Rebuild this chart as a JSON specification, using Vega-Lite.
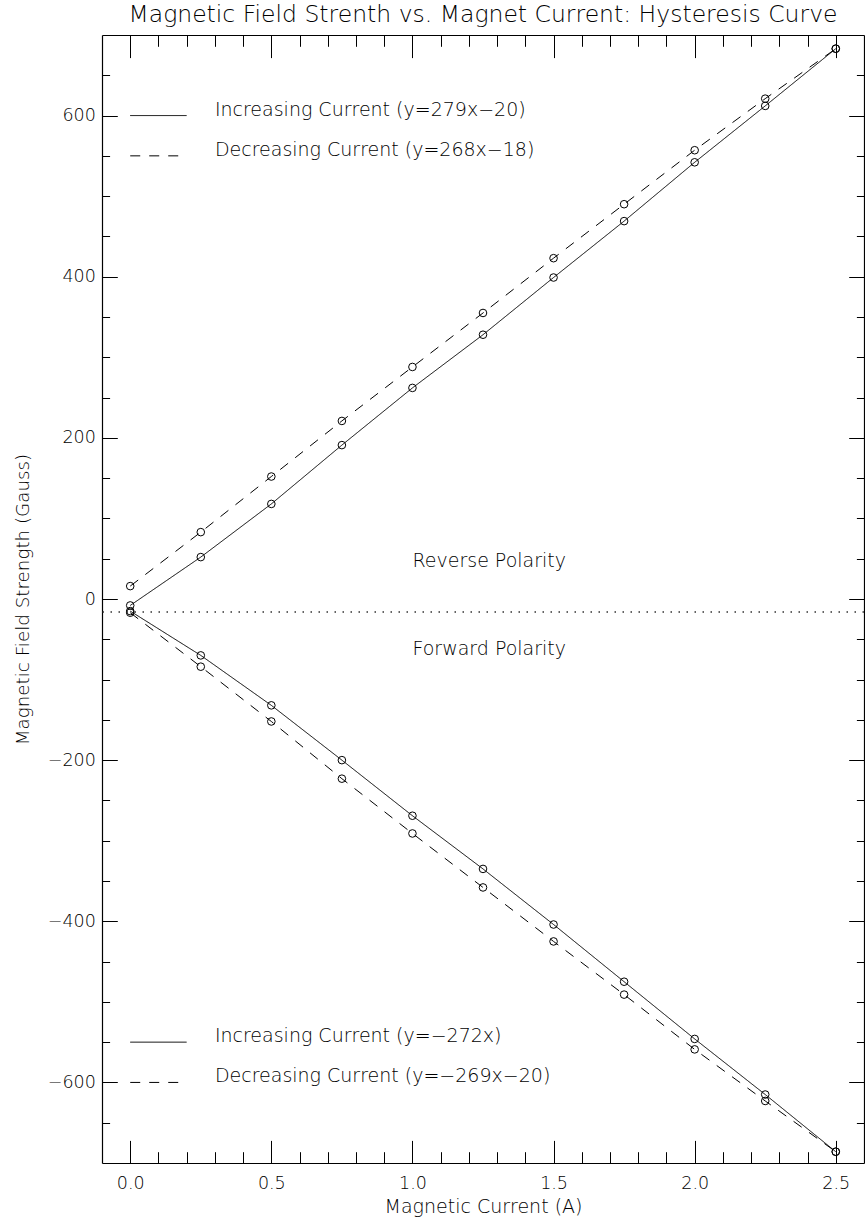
{
  "$schema": "https://vega.github.io/schema/vega-lite/v6.json",
  "width": 762,
  "height": 1128,
  "autosize": {"type": "none"},
  "padding": {"left": 102, "top": 35, "right": 1, "bottom": 59},
  "background": "white",
  "title": {
    "text": "Magnetic Field Strenth vs. Magnet Current: Hysteresis Curve",
    "anchor": "middle",
    "frame": "group",
    "fontSize": 23.5,
    "fontWeight": 200,
    "font": "DejaVu Sans",
    "color": "black",
    "offset": 8
  },
  "config": {
    "font": "DejaVu Sans",
    "view": {"stroke": null},
    "axis": {
      "grid": false,
      "labelFont": "DejaVu Sans",
      "labelFontWeight": 200,
      "labelFontSize": 17.5,
      "labelColor": "black",
      "titleFont": "DejaVu Sans",
      "titleFontWeight": 200,
      "titleFontSize": 19,
      "titleColor": "black",
      "tickColor": "black",
      "tickWidth": 1,
      "domainColor": "black",
      "domainWidth": 1.2
    },
    "text": {"font": "DejaVu Sans", "fontWeight": 200}
  },
  "datasets": {
    "meas": [
      {"current": 0.0, "field": -8, "polarity": "Reverse", "direction": "Increasing"},
      {"current": 0.25, "field": 52, "polarity": "Reverse", "direction": "Increasing"},
      {"current": 0.5, "field": 118, "polarity": "Reverse", "direction": "Increasing"},
      {"current": 0.75, "field": 191, "polarity": "Reverse", "direction": "Increasing"},
      {"current": 1.0, "field": 262, "polarity": "Reverse", "direction": "Increasing"},
      {"current": 1.25, "field": 328, "polarity": "Reverse", "direction": "Increasing"},
      {"current": 1.5, "field": 399, "polarity": "Reverse", "direction": "Increasing"},
      {"current": 1.75, "field": 469, "polarity": "Reverse", "direction": "Increasing"},
      {"current": 2.0, "field": 542, "polarity": "Reverse", "direction": "Increasing"},
      {"current": 2.25, "field": 612, "polarity": "Reverse", "direction": "Increasing"},
      {"current": 2.5, "field": 683, "polarity": "Reverse", "direction": "Increasing"},
      {"current": 0.0, "field": 16, "polarity": "Reverse", "direction": "Decreasing"},
      {"current": 0.25, "field": 83, "polarity": "Reverse", "direction": "Decreasing"},
      {"current": 0.5, "field": 152, "polarity": "Reverse", "direction": "Decreasing"},
      {"current": 0.75, "field": 221, "polarity": "Reverse", "direction": "Decreasing"},
      {"current": 1.0, "field": 288, "polarity": "Reverse", "direction": "Decreasing"},
      {"current": 1.25, "field": 355, "polarity": "Reverse", "direction": "Decreasing"},
      {"current": 1.5, "field": 423, "polarity": "Reverse", "direction": "Decreasing"},
      {"current": 1.75, "field": 490, "polarity": "Reverse", "direction": "Decreasing"},
      {"current": 2.0, "field": 557, "polarity": "Reverse", "direction": "Decreasing"},
      {"current": 2.25, "field": 621, "polarity": "Reverse", "direction": "Decreasing"},
      {"current": 2.5, "field": 683, "polarity": "Reverse", "direction": "Decreasing"},
      {"current": 0.0, "field": -15, "polarity": "Forward", "direction": "Increasing"},
      {"current": 0.25, "field": -70, "polarity": "Forward", "direction": "Increasing"},
      {"current": 0.5, "field": -132, "polarity": "Forward", "direction": "Increasing"},
      {"current": 0.75, "field": -200, "polarity": "Forward", "direction": "Increasing"},
      {"current": 1.0, "field": -269, "polarity": "Forward", "direction": "Increasing"},
      {"current": 1.25, "field": -335, "polarity": "Forward", "direction": "Increasing"},
      {"current": 1.5, "field": -404, "polarity": "Forward", "direction": "Increasing"},
      {"current": 1.75, "field": -475, "polarity": "Forward", "direction": "Increasing"},
      {"current": 2.0, "field": -546, "polarity": "Forward", "direction": "Increasing"},
      {"current": 2.25, "field": -615, "polarity": "Forward", "direction": "Increasing"},
      {"current": 2.5, "field": -686, "polarity": "Forward", "direction": "Increasing"},
      {"current": 0.0, "field": -17, "polarity": "Forward", "direction": "Decreasing"},
      {"current": 0.25, "field": -84, "polarity": "Forward", "direction": "Decreasing"},
      {"current": 0.5, "field": -152, "polarity": "Forward", "direction": "Decreasing"},
      {"current": 0.75, "field": -223, "polarity": "Forward", "direction": "Decreasing"},
      {"current": 1.0, "field": -291, "polarity": "Forward", "direction": "Decreasing"},
      {"current": 1.25, "field": -358, "polarity": "Forward", "direction": "Decreasing"},
      {"current": 1.5, "field": -425, "polarity": "Forward", "direction": "Decreasing"},
      {"current": 1.75, "field": -491, "polarity": "Forward", "direction": "Decreasing"},
      {"current": 2.0, "field": -559, "polarity": "Forward", "direction": "Decreasing"},
      {"current": 2.25, "field": -623, "polarity": "Forward", "direction": "Decreasing"},
      {"current": 2.5, "field": -686, "polarity": "Forward", "direction": "Decreasing"}
    ],
    "legend": [
      {"x0": 0, "x1": 0.2, "xt": 0.3, "y": 600, "direction": "Increasing", "label": "Increasing Current (y=279x−20)"},
      {"x0": 0, "x1": 0.2, "xt": 0.3, "y": 550, "direction": "Decreasing", "label": "Decreasing Current (y=268x−18)"},
      {"x0": 0, "x1": 0.2, "xt": 0.3, "y": -550, "direction": "Increasing", "label": "Increasing Current (y=−272x)"},
      {"x0": 0, "x1": 0.2, "xt": 0.3, "y": -600, "direction": "Decreasing", "label": "Decreasing Current (y=−269x−20)"}
    ],
    "notes": [
      {"x": 1.0, "y": 40, "label": "Reverse Polarity"},
      {"x": 1.0, "y": -70, "label": "Forward Polarity"}
    ],
    "zero": [{"level": -16}]
  },
  "resolve": {"axis": {"x": "independent", "y": "independent"}},
  "layer": [
    {
      "data": {"name": "meas"},
      "mark": {"type": "line", "color": "black", "strokeWidth": 1},
      "encoding": {
        "x": {"field": "current", "type": "quantitative",
              "scale": {"domain": [-0.1, 2.6], "nice": false, "zero": false},
              "axis": {"orient": "bottom", "values": [0, 0.5, 1, 1.5, 2, 2.5], "format": ".1f",
                       "tickSize": -22.6, "labelPadding": 34, "title": "Magnetic Current (A)", "titlePadding": 6}},
        "y": {"field": "field", "type": "quantitative",
              "scale": {"domain": [-700, 700], "nice": false, "zero": false},
              "axis": {"orient": "left", "values": [-600, -400, -200, 0, 200, 400, 600],
                       "tickSize": -15.3, "labelPadding": 22, "title": "Magnetic Field Strength (Gauss)", "titlePadding": 15, "titleFontSize": 18.3}},
        "detail": {"field": "polarity"},
        "strokeDash": {"field": "direction", "type": "nominal",
                       "scale": {"domain": ["Increasing", "Decreasing"], "range": [[1, 0], [10, 9]]},
                       "legend": null}
      }
    },
    {
      "data": {"name": "meas"},
      "mark": {"type": "point", "shape": "circle", "filled": false, "color": "black", "size": 58, "strokeWidth": 1, "opacity": 1},
      "encoding": {
        "x": {"field": "current", "type": "quantitative",
              "scale": {"domain": [-0.1, 2.6], "nice": false, "zero": false},
              "axis": {"orient": "bottom", "values": [0.1, 0.2, 0.3, 0.4, 0.6, 0.7, 0.8, 0.9, 1.1, 1.2, 1.3, 1.4, 1.6, 1.7, 1.8, 1.9, 2.1, 2.2, 2.3, 2.4],
                       "tickSize": -11.3, "labels": false, "domain": false, "title": null}},
        "y": {"field": "field", "type": "quantitative",
              "scale": {"domain": [-700, 700], "nice": false, "zero": false},
              "axis": {"orient": "left", "values": [-650, -550, -500, -450, -350, -300, -250, -150, -100, -50, 50, 100, 150, 250, 300, 350, 450, 500, 550, 650],
                       "tickSize": -7.6, "labels": false, "domain": false, "title": null}}
      }
    },
    {
      "data": {"name": "legend"},
      "mark": {"type": "rule", "color": "black", "strokeWidth": 1},
      "encoding": {
        "x": {"field": "x0", "type": "quantitative",
              "scale": {"domain": [-0.1, 2.6], "nice": false, "zero": false},
              "axis": {"orient": "top", "values": [0, 0.5, 1, 1.5, 2, 2.5],
                       "tickSize": -22.6, "labels": false, "title": null}},
        "x2": {"field": "x1"},
        "y": {"field": "y", "type": "quantitative",
              "scale": {"domain": [-700, 700], "nice": false, "zero": false},
              "axis": {"orient": "right", "values": [-600, -400, -200, 0, 200, 400, 600],
                       "tickSize": -15.3, "labels": false, "title": null}},
        "strokeDash": {"field": "direction", "type": "nominal",
                       "scale": {"domain": ["Increasing", "Decreasing"], "range": [[1, 0], [10, 9]]},
                       "legend": null}
      }
    },
    {
      "data": {"name": "legend"},
      "mark": {"type": "text", "align": "left", "baseline": "alphabetic", "fontSize": 19, "color": "black"},
      "encoding": {
        "x": {"field": "xt", "type": "quantitative",
              "scale": {"domain": [-0.1, 2.6], "nice": false, "zero": false},
              "axis": {"orient": "top", "values": [0.1, 0.2, 0.3, 0.4, 0.6, 0.7, 0.8, 0.9, 1.1, 1.2, 1.3, 1.4, 1.6, 1.7, 1.8, 1.9, 2.1, 2.2, 2.3, 2.4],
                       "tickSize": -11.3, "labels": false, "domain": false, "title": null}},
        "y": {"field": "y", "type": "quantitative",
              "scale": {"domain": [-700, 700], "nice": false, "zero": false},
              "axis": {"orient": "right", "values": [-650, -550, -500, -450, -350, -300, -250, -150, -100, -50, 50, 100, 150, 250, 300, 350, 450, 500, 550, 650],
                       "tickSize": -7.6, "labels": false, "domain": false, "title": null}},
        "text": {"field": "label"}
      }
    },
    {
      "data": {"name": "notes"},
      "mark": {"type": "text", "align": "left", "baseline": "alphabetic", "fontSize": 19, "color": "black"},
      "encoding": {
        "x": {"field": "x", "type": "quantitative", "scale": {"domain": [-0.1, 2.6], "nice": false, "zero": false}, "axis": null},
        "y": {"field": "y", "type": "quantitative", "scale": {"domain": [-700, 700], "nice": false, "zero": false}, "axis": null},
        "text": {"field": "label"}
      }
    },
    {
      "data": {"name": "zero"},
      "mark": {"type": "rule", "color": "#333333", "strokeWidth": 1.5, "strokeDash": [1.5, 6.5]},
      "encoding": {
        "y": {"field": "level", "type": "quantitative", "scale": {"domain": [-700, 700], "nice": false, "zero": false}, "axis": null}
      }
    }
  ]
}
